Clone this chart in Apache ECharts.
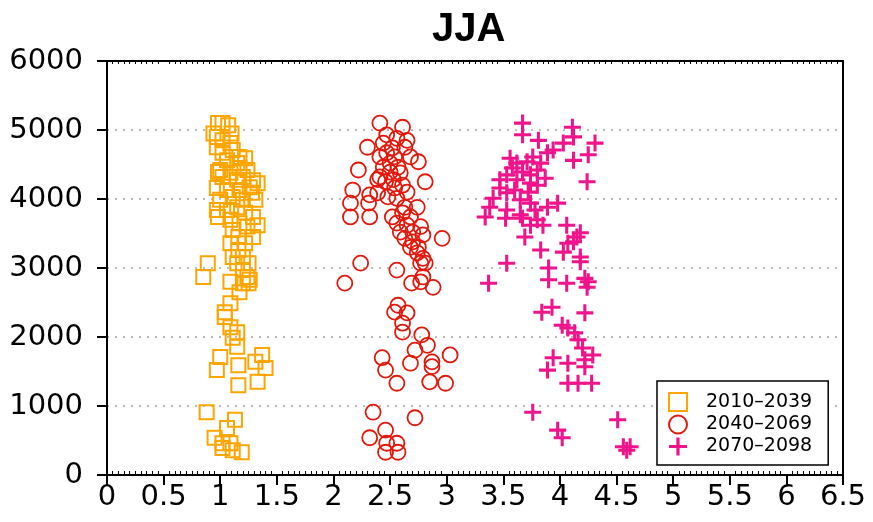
<!DOCTYPE html>
<html>
<head>
<meta charset="utf-8">
<script src="https://cdn.jsdelivr.net/npm/echarts@6/dist/echarts.min.js"></script>
<style>html,body{margin:0;padding:0;background:#fff}#c{width:873px;height:522px}</style>
</head>
<body>
<div id="c"></div>
<script>
const titleText = 'JJA';
const seriesNames = ['2010–2039', '2040–2069', '2070–2098'];
const xTicks = [0, 0.5, 1, 1.5, 2, 2.5, 3, 3.5, 4, 4.5, 5, 5.5, 6, 6.5];
const yTicks = [0, 1000, 2000, 3000, 4000, 5000, 6000];

const s2010 = [
[0.98,5100],[1.02,5100],[1.07,5070],[0.94,4950],[0.97,4900],[1.10,4950],[1.02,4850],[1.09,4810],
[0.97,4750],[1.11,4710],[1.02,4670],[1.17,4610],[1.22,4590],[1.06,4560],[1.15,4520],[1.00,4420],
[1.17,4450],[1.24,4420],[1.09,4380],[1.02,4320],[1.20,4320],[1.15,4280],[0.98,4390],[1.26,4170],
[1.06,4130],[1.17,4130],[1.29,4270],[0.97,4160],[1.11,4030],[1.20,3990],[1.28,4090],[1.00,3990],
[1.33,4230],[1.31,3990],[1.15,3880],[1.06,3840],[0.97,3840],[1.22,3800],[1.29,3740],[1.09,3700],
[1.17,3650],[0.98,3740],[1.24,3600],[1.11,3550],[1.33,3620],[1.16,3450],[1.29,3450],[1.09,3360],
[1.22,3360],[1.16,3260],[1.11,3160],[1.20,3160],[1.15,3070],[0.89,3070],[1.25,3070],[1.20,2970],
[0.85,2870],[1.24,2870],[1.09,2800],[1.20,2780],[1.26,2830],[1.25,2780],[1.17,2650],[1.09,2490],
[1.04,2360],[1.04,2290],[1.09,2140],[1.15,2070],[1.11,1990],[1.15,1860],[1.00,1710],[1.16,1590],
[0.97,1520],[1.31,1640],[1.37,1740],[1.40,1550],[1.16,1300],[1.33,1350],[0.88,910],[1.13,800],
[1.06,680],[0.95,540],[1.02,460],[1.09,460],[1.02,390],[1.11,360],[1.19,330]
];
const s2040 = [
[2.41,5100],[2.61,5040],[2.47,4930],[2.30,4750],[2.56,4880],[2.65,4850],[2.44,4810],[2.52,4740],
[2.63,4750],[2.47,4670],[2.54,4610],[2.41,4610],[2.68,4610],[2.75,4540],[2.50,4520],[2.44,4460],
[2.57,4460],[2.22,4420],[2.50,4390],[2.41,4320],[2.59,4380],[2.53,4280],[2.46,4250],[2.81,4250],
[2.39,4280],[2.61,4200],[2.17,4130],[2.54,4160],[2.39,4090],[2.32,4060],[2.65,4100],[2.48,4030],
[2.15,3940],[2.31,3940],[2.56,4010],[2.63,3880],[2.74,3880],[2.15,3740],[2.32,3740],[2.52,3740],
[2.61,3800],[2.68,3740],[2.56,3650],[2.65,3620],[2.77,3600],[2.59,3520],[2.70,3520],[2.96,3430],
[2.79,3480],[2.63,3430],[2.70,3380],[2.68,3300],[2.75,3300],[2.74,3220],[2.79,3140],[2.77,3070],
[2.81,3070],[2.24,3070],[2.56,2970],[2.79,2870],[2.10,2780],[2.69,2780],[2.88,2720],[2.77,2800],
[2.57,2460],[2.54,2360],[2.65,2350],[2.61,2200],[2.61,2070],[2.78,2030],[2.72,1810],[2.83,1880],
[2.43,1700],[3.03,1740],[2.87,1640],[2.68,1620],[2.87,1570],[2.46,1520],[2.85,1350],[2.99,1330],
[2.56,1330],[2.35,910],[2.72,830],[2.46,650],[2.32,540],[2.47,460],[2.56,460],[2.46,330],[2.57,330]
];
const s2070 = [
[3.67,5100],[4.11,5040],[3.67,4930],[3.81,4850],[4.12,4900],[4.31,4810],[4.03,4810],[3.94,4710],
[3.89,4670],[4.25,4640],[4.12,4560],[3.56,4590],[3.76,4610],[3.62,4520],[3.71,4540],[3.83,4520],
[3.58,4450],[3.80,4420],[3.67,4390],[3.74,4350],[3.53,4350],[3.87,4300],[3.47,4280],[4.24,4250],
[3.62,4280],[3.74,4230],[3.80,4200],[3.47,4160],[3.60,4130],[3.72,4100],[3.53,4090],[3.41,4010],
[3.74,3940],[3.65,3990],[3.98,3940],[3.89,3880],[3.38,3880],[3.53,3840],[3.78,3840],[3.34,3740],
[3.65,3770],[3.52,3720],[3.80,3700],[3.67,3720],[3.74,3620],[3.85,3620],[4.06,3620],[4.15,3450],
[4.18,3510],[3.69,3450],[4.07,3360],[4.12,3380],[3.83,3260],[4.03,3230],[4.18,3160],[4.18,3090],
[3.53,3070],[3.90,3000],[3.37,2780],[3.90,2830],[4.06,2780],[4.22,2850],[4.25,2800],[4.24,2720],
[3.84,2360],[3.93,2430],[4.22,2350],[4.02,2170],[4.07,2130],[4.13,2060],[4.16,1960],[4.20,1840],
[3.94,1700],[4.29,1740],[4.22,1670],[4.07,1620],[3.89,1520],[4.22,1570],[4.07,1330],[4.16,1330],
[4.28,1330],[3.76,910],[4.51,800],[3.98,650],[4.02,540],[4.56,410],[4.62,410],[4.59,360]
];

const colors = ['#ffa500', '#e3170a', '#f0148c'];
const plusPath = 'path://M-1.8,-10 h3.6 v8.2 h8.2 v3.6 h-8.2 v8.2 h-3.6 v-8.2 h-8.2 v-3.6 h8.2 z';
const tickFont = {fontFamily: 'DejaVu Sans', fontSize: 29, color: '#000'};

const chart = echarts.init(document.getElementById('c'), null, {renderer: 'canvas'});
chart.setOption({
  animation: false,
  backgroundColor: '#fff',
  title: {
    text: titleText, left: 432, top: 10, padding: 0,
    textStyle: {fontFamily: 'Liberation Sans', fontWeight: 'bold', fontSize: 40, color: '#000'}
  },
  grid: {left: 107, right: 30, top: 61, bottom: 47},
  legend: {
    orient: 'vertical', left: 657, top: 381,
    padding: [11, 16, 9, 11], itemGap: 2.5, itemWidth: 18, itemHeight: 18,
    backgroundColor: '#fff', borderColor: '#000', borderWidth: 1.5, borderRadius: 0,
    textStyle: {fontFamily: 'DejaVu Sans', fontSize: 19, color: '#000', padding: [0, 0, 0, 14]},
    data: [
      {name: seriesNames[0], icon: 'rect', itemStyle: {color: 'rgba(0,0,0,0)', borderColor: colors[0], borderWidth: 2}},
      {name: seriesNames[1], icon: 'circle', itemStyle: {color: 'rgba(0,0,0,0)', borderColor: colors[1], borderWidth: 2}},
      {name: seriesNames[2], icon: plusPath, itemStyle: {color: colors[2], borderWidth: 0}}
    ]
  },
  xAxis: [
    {
      type: 'value', position: 'bottom', min: xTicks[0], max: xTicks[xTicks.length - 1], interval: 0.5,
      axisLine: {show: true, onZero: false, lineStyle: {color: '#000', width: 2}},
      axisTick: {show: true, inside: false, length: 10, lineStyle: {color: '#000', width: 2}},
      axisLabel: Object.assign({margin: 8, formatter: v => String(v)}, tickFont),
      splitLine: {show: false}
    },
    {
      type: 'value', position: 'bottom', min: xTicks[0], max: xTicks[xTicks.length - 1], interval: 0.5,
      axisLine: {show: false}, axisTick: {show: false, inside: true},
      minorTick: {show: true, splitNumber: 10, length: 4, lineStyle: {color: '#000', width: 1}},
      axisLabel: {show: false}, splitLine: {show: false}
    },
    {
      type: 'value', position: 'top', min: xTicks[0], max: xTicks[xTicks.length - 1], interval: 0.5,
      axisLine: {show: true, onZero: false, lineStyle: {color: '#000', width: 2}},
      axisTick: {show: false, inside: true},
      minorTick: {show: true, splitNumber: 10, length: 3, lineStyle: {color: '#000', width: 1}},
      axisLabel: {show: false}, splitLine: {show: false}
    }
  ],
  yAxis: [
    {
      type: 'value', position: 'left', min: yTicks[0], max: yTicks[yTicks.length - 1], interval: 1000,
      axisLine: {show: true, onZero: false, lineStyle: {color: '#000', width: 2}},
      axisTick: {show: true, inside: false, length: 10, lineStyle: {color: '#000', width: 2}},
      axisLabel: Object.assign({margin: 24, formatter: v => String(v)}, tickFont),
      splitLine: {show: true, lineStyle: {color: '#a8a8a8', width: 1.5, type: [2, 6]}}
    },
    {
      type: 'value', position: 'right', min: yTicks[0], max: yTicks[yTicks.length - 1], interval: 1000,
      axisLine: {show: true, onZero: false, lineStyle: {color: '#000', width: 2}},
      axisTick: {show: false}, axisLabel: {show: false}, splitLine: {show: false}
    }
  ],
  series: [
    {
      name: seriesNames[0], type: 'scatter', data: s2010, symbol: 'rect', symbolSize: 14,
      itemStyle: {color: 'rgba(0,0,0,0)', borderColor: colors[0], borderWidth: 2, opacity: 1}
    },
    {
      name: seriesNames[1], type: 'scatter', data: s2040, symbol: 'circle', symbolSize: 15,
      itemStyle: {color: 'rgba(0,0,0,0)', borderColor: colors[1], borderWidth: 1.8, opacity: 1}
    },
    {
      name: seriesNames[2], type: 'scatter', data: s2070, symbol: plusPath, symbolSize: 17,
      itemStyle: {color: colors[2], borderWidth: 0, opacity: 1}
    }
  ]
});
</script>
</body>
</html>
